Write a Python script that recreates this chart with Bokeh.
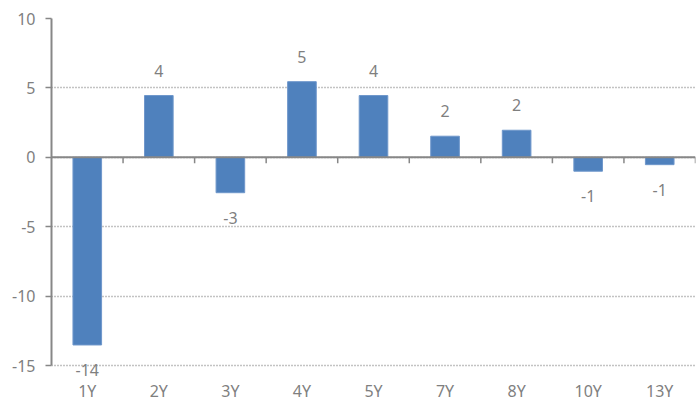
import math
from bokeh.plotting import figure
from bokeh.models import (Range1d, FixedTicker, Label, ColumnDataSource, Span)
from bokeh.embed import file_html
from bokeh.resources import INLINE

categories = ["1Y", "2Y", "3Y", "4Y", "5Y", "7Y", "8Y", "10Y", "13Y"]
values = [-13.52, 4.45, -2.55, 5.45, 4.45, 1.52, 1.95, -1.0, -0.53]
labels = ["-14", "4", "-3", "5", "4", "2", "2", "-1", "-1"]
y_ticks = [-15, -10, -5, 0, 5, 10]

GRAY = "#878787"
TEXT = "#7f7f7f"
FONT = "Noto Sans"
BAR = "#4f81bd"

n = len(categories)
xs = [i + 0.5 for i in range(n)]              # category centres
bounds = [float(i) for i in range(1, n + 1)]  # category boundaries
y_lo, y_hi = min(y_ticks), max(y_ticks)

# frame extends below the -15 line so that the "-14" label and the
# category labels (hung from the -15 line) are drawn inside it
p = figure(frame_width=644, frame_height=382,
           x_range=Range1d(0, n),
           y_range=Range1d(y_lo - 2.52, y_hi),
           output_backend="svg", toolbar_location=None,
           min_border_left=51, min_border_right=2,
           min_border_top=18, min_border_bottom=10)
p.outline_line_color = None

# grid
p.xgrid.visible = False
p.ygrid.ticker = FixedTicker(ticks=y_ticks)
p.ygrid.grid_line_color = GRAY
p.ygrid.grid_line_dash = "1 2"
p.ygrid.grid_line_width = 1.5

# y axis
p.yaxis.ticker = FixedTicker(ticks=y_ticks)
p.yaxis.bounds = (y_lo, y_hi)
p.yaxis.major_label_overrides = {t: str(t) for t in y_ticks}
p.yaxis.axis_line_color = GRAY
p.yaxis.axis_line_width = 2
p.yaxis.major_tick_line_color = GRAY
p.yaxis.major_tick_line_width = 1.5
p.yaxis.major_tick_out = 6
p.yaxis.major_tick_in = 0
p.yaxis.minor_tick_line_color = None
p.yaxis.major_label_text_font = FONT
p.yaxis.major_label_text_font_size = "16px"
p.yaxis.major_label_text_color = TEXT
p.yaxis.major_label_standoff = 10

# x axis (category labels only, hung from the -15 line)
p.xaxis.fixed_location = y_lo
p.xaxis.ticker = FixedTicker(ticks=xs)
p.xaxis.major_label_overrides = {x: c for x, c in zip(xs, categories)}
p.xaxis.axis_line_color = None
p.xaxis.major_tick_line_color = None
p.xaxis.minor_tick_line_color = None
p.xaxis.major_label_text_font = FONT
p.xaxis.major_label_text_font_size = "16px"
p.xaxis.major_label_text_color = TEXT
p.xaxis.major_label_standoff = 8

# bars
src = ColumnDataSource(dict(x=xs, top=values))
p.vbar(x="x", top="top", bottom=0, width=0.4, source=src,
       fill_color=BAR, line_color="#6f97cb", line_width=1)

# zero line with category boundary ticks
p.add_layout(Span(location=0, dimension="width", line_color=GRAY, line_width=2))
p.ray(x=bounds, y=[0] * len(bounds), length=6, length_units="screen",
      angle=-math.pi / 2, line_color=GRAY, line_width=1.5)

# data labels
for x, v, lab in zip(xs, values, labels):
    p.add_layout(Label(x=x, y=v, text=lab, y_offset=25 if v >= 0 else -25,
                       text_align="center", text_baseline="middle",
                       text_font=FONT, text_font_size="16px", text_color=TEXT))

open("out.html", "w").write(file_html(p, INLINE))
